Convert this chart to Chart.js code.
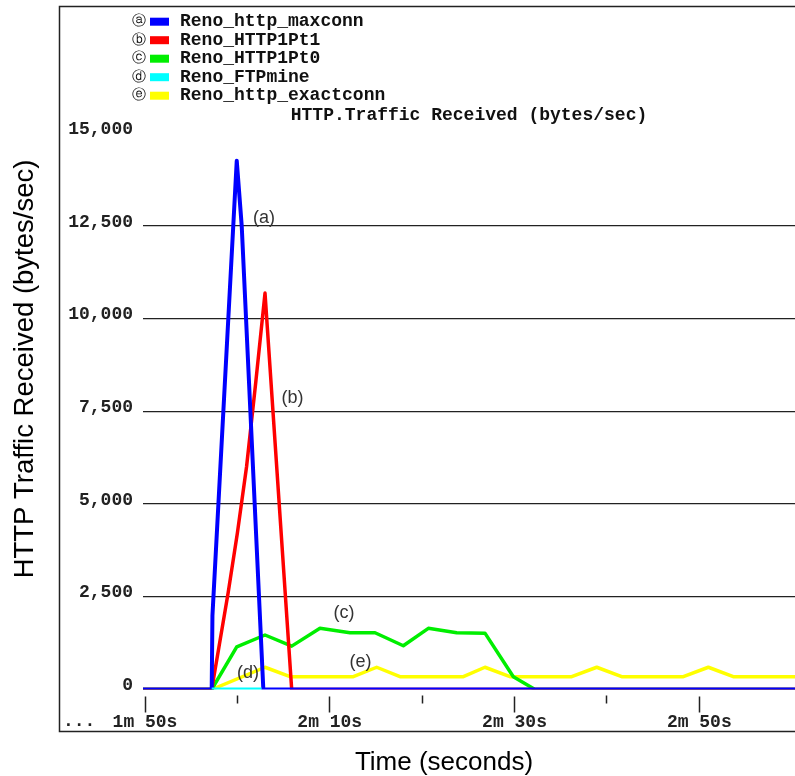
<!DOCTYPE html>
<html>
<head>
<meta charset="utf-8">
<title>HTTP Traffic Received</title>
<script src="https://cdn.jsdelivr.net/npm/chart.js@4.4.0/dist/chart.umd.min.js"></script>
<style>
  body { margin: 0; background: #fff; overflow: hidden; }
  #grafico { display: block; }
</style>
</head>
<body>
<canvas id="grafico" width="795" height="776"></canvas>
<script>
// series names and tags (a)..(e)
const seriesNames = ['Reno_http_maxconn', 'Reno_HTTP1Pt1', 'Reno_HTTP1Pt0', 'Reno_FTPmine', 'Reno_http_exactconn'];
const seriesTags = ['a', 'b', 'c', 'd', 'e'];

// time in seconds, traffic in bytes/sec
const maxconnTime = [109.7, 117.22, 117.3, 119.93, 120.47, 122.81, 181];
const maxconnBytes = [0, 0, 2000, 14260, 12500, 0, 0];

const http1pt1Time = [109.7, 117.22, 118, 119, 120, 121, 122, 122.99, 125.88, 181];
const http1pt1Bytes = [0, 0, 1140, 2610, 4220, 6020, 8310, 10690, 0, 0];

const http1pt0Time = [109.7, 117.22, 119.93, 122.99, 125.88, 128.94, 132.19, 134.9, 137.96, 140.67, 143.74, 146.8, 149.87, 152.22, 181];
const http1pt0Bytes = [0, 0, 1150, 1470, 1170, 1650, 1530, 1530, 1180, 1650, 1530, 1520, 345, 0, 0];

const ftpmineTime = [117.22, 122.6];
const ftpmineBytes = [0, 0];

const exactconnTime = [109.7, 117.22, 122.99, 125.7, 132.55, 135.08, 137.6, 144.46, 146.8, 149.5, 156.19, 158.9, 161.6, 168.27, 170.98, 173.68, 181];
const exactconnBytes = [0, 0, 600, 345, 345, 600, 345, 345, 600, 345, 345, 600, 345, 345, 600, 345, 345];

// axis ticks
const xTickValues = [110, 120, 130, 140, 150, 160, 170];
const xTickLabels = ['1m 50s', '', '2m 10s', '', '2m 30s', '', '2m 50s'];
const yTickValues = [0, 2500, 5000, 7500, 10000, 12500, 15000];
const yTickLabels = ['0', '2,500', '5,000', '7,500', '10,000', '12,500', '15,000'];

// curve labels (a)..(e) anchored in data units
const noteTimes = [122.88, 125.97, 131.54, 121.15, 133.33];
const noteBytes = [12716, 7861, 2063, 445, 742];

const seriesColors = ['#0000ff', '#ff0000', '#00ee00', '#00ffff', '#ffff00'];
const seriesWidths = [4, 3.5, 3.5, 4, 3.5];

function pares(tempos, valores) {
    return tempos.map((t, i) => ({ x: t, y: valores[i] }));
}

const allSeries = [
    pares(maxconnTime, maxconnBytes),
    pares(http1pt1Time, http1pt1Bytes),
    pares(http1pt0Time, http1pt0Bytes),
    pares(ftpmineTime, ftpmineBytes),
    pares(exactconnTime, exactconnBytes)
];

const mono = 'Liberation Mono, Courier New, monospace';

// legend, frame, axis titles and curve letters
const decoracao = {
    id: 'decoracao',
    afterDraw(chart) {
        const ctx = chart.ctx;
        const xs = chart.scales.x;
        const ys = chart.scales.y;
        ctx.save();

        // frame
        ctx.strokeStyle = '#222';
        ctx.lineWidth = 1.5;
        ctx.beginPath();
        ctx.moveTo(800, 6.5);
        ctx.lineTo(59.5, 6.5);
        ctx.lineTo(59.5, 731.5);
        ctx.lineTo(800, 731.5);
        ctx.stroke();

        // legend
        chart.data.datasets.forEach((ds, i) => {
            const cy = 21.7 + i * 18.5;
            ctx.textBaseline = 'middle';
            ctx.textAlign = 'center';
            ctx.fillStyle = '#111';
            ctx.font = '14px "DejaVu Sans"';
            ctx.fillText(String.fromCharCode(0x24D0 + seriesTags[i].charCodeAt(0) - 97), 139, cy);
            ctx.fillStyle = ds.borderColor;
            ctx.fillRect(150, cy - 4, 19, 8);
            ctx.fillStyle = '#111';
            ctx.textAlign = 'left';
            ctx.font = 'bold 18px ' + mono;
            ctx.fillText(ds.label, 180, cy);
        });

        // dots before the first time label
        ctx.fillStyle = '#222';
        ctx.font = 'bold 18px ' + mono;
        ctx.textAlign = 'left';
        ctx.textBaseline = 'middle';
        ctx.fillText('...', 63, 721);

        // axis titles
        ctx.fillStyle = '#000';
        ctx.textAlign = 'center';
        ctx.font = '26px "Liberation Sans", Arial, sans-serif';
        ctx.fillText('Time (seconds)', 444, 763);
        ctx.save();
        ctx.translate(25, 369);
        ctx.rotate(-Math.PI / 2);
        ctx.font = '27.5px "Liberation Sans", Arial, sans-serif';
        ctx.fillText('HTTP Traffic Received (bytes/sec)', 0, 0);
        ctx.restore();

        // (a)..(e) next to the curves
        ctx.fillStyle = '#333';
        ctx.font = '18px "Liberation Sans", Arial, sans-serif';
        noteTimes.forEach((t, i) => {
            ctx.fillText('(' + seriesTags[i] + ')', xs.getPixelForValue(t), ys.getPixelForValue(noteBytes[i]));
        });

        ctx.restore();
    }
};

const data = {
    datasets: allSeries.map((pts, i) => ({
        label: seriesNames[i],
        data: pts,
        borderColor: seriesColors[i],
        backgroundColor: seriesColors[i],
        borderWidth: seriesWidths[i],
        pointRadius: 0,
        tension: 0,
        fill: false,
        order: i === 3 ? -1 : 0 // cyan piece sits on top of the blue baseline
    }))
};

const config = {
    type: 'line',
    data: data,
    plugins: [decoracao],
    options: {
        responsive: false,
        animation: false,
        events: [],
        layout: { padding: 0 },
        borderJoinStyle: 'round',
        plugins: {
            legend: { display: false },
            tooltip: { enabled: false },
            title: {
                display: true,
                text: 'HTTP.Traffic Received (bytes/sec)',
                fullSize: false,
                color: '#111',
                font: { family: mono, size: 18, weight: 'bold' },
                padding: { top: 104.2, bottom: 7.5 }
            }
        },
        scales: {
            x: {
                type: 'linear',
                min: 109.783,
                max: 180.36,
                afterBuildTicks: scale => { scale.ticks = xTickValues.map(v => ({ value: v })); },
                afterFit: scale => { scale.height = 86.5; },
                border: { display: false },
                grid: {
                    drawOnChartArea: false,
                    drawTicks: true,
                    tickLength: 23,
                    tickWidth: 1.5,
                    tickColor: '#222',
                    tickBorderDash: c => xTickLabels[c.index] ? [0, 6.5, 16.5, 100] : [0, 5.5, 8, 100]
                },
                ticks: {
                    autoSkip: false,
                    maxRotation: 0,
                    padding: -1,
                    color: '#222',
                    font: { family: mono, size: 18, weight: 'bold' },
                    callback: (v, i) => xTickLabels[i]
                }
            },
            y: {
                min: 0,
                max: 15000,
                afterBuildTicks: scale => { scale.ticks = yTickValues.map(v => ({ value: v })); },
                afterFit: scale => { scale.width = 143; },
                border: { display: false },
                grid: {
                    drawTicks: false,
                    lineWidth: 1.3,
                    color: c => (c.tick && (c.tick.value === 0 || c.tick.value === 15000)) ? 'rgba(0,0,0,0)' : '#222'
                },
                ticks: {
                    padding: 10,
                    labelOffset: -4,
                    color: '#222',
                    font: { family: mono, size: 18, weight: 'bold' },
                    callback: (v, i) => yTickLabels[i]
                }
            }
        }
    }
};

const ctx = document.getElementById('grafico').getContext('2d');
const meuGrafico = new Chart(ctx, config);
</script>
</body>
</html>
